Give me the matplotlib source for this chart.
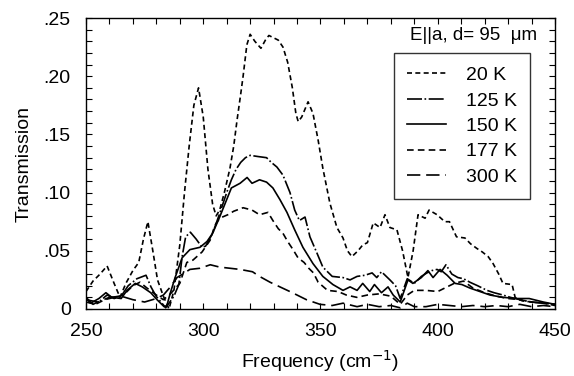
import matplotlib
matplotlib.use('Agg')
import matplotlib.pyplot as plt
from matplotlib.ticker import MultipleLocator, FixedLocator

plt.rcParams['font.family'] = ['Liberation Sans', 'DejaVu Sans']

# transmission spectra, E || a, d = 95 um
x_20 = [250, 253, 256, 259, 262, 264.5, 267, 270, 272.5, 274.5, 276.4, 278.5, 280.5, 283, 285.4,
        287.5, 290, 292, 294, 296, 298, 300, 302, 304, 305.5, 307, 309, 311.4, 313, 314.4, 316,
        317, 318.6, 320, 322, 324.6, 326.5, 328, 330, 332, 334, 336, 338, 339.5, 340.5, 342,
        344.7, 346.8, 349, 351, 354, 357, 359.6, 361.5, 363.4, 366, 368, 370, 372.5, 375.4,
        377.5, 379.6, 382.6, 385, 387.3, 389.5, 391.6, 394.6, 396.3, 399.7, 403, 405, 408,
        411.6, 414, 416.7, 419, 421.5, 423.6, 426, 427.8, 431.7, 433, 436, 440, 445, 450]
y_20 = [0.015, 0.024, 0.03, 0.037, 0.022, 0.01, 0.022, 0.033, 0.04, 0.06, 0.075, 0.05, 0.025, 0.011, 0.0,
        0.016, 0.055, 0.1, 0.14, 0.175, 0.19, 0.165, 0.12, 0.09, 0.08, 0.085, 0.1, 0.121, 0.14, 0.162, 0.185,
        0.2, 0.227, 0.236, 0.23, 0.224, 0.231, 0.235, 0.233, 0.231, 0.225, 0.212, 0.19, 0.168, 0.161, 0.165,
        0.178, 0.168, 0.145, 0.121, 0.091, 0.07, 0.061, 0.05, 0.045, 0.05, 0.055, 0.057, 0.074, 0.07,
        0.081, 0.07, 0.068, 0.05, 0.027, 0.05, 0.081, 0.078, 0.085, 0.081, 0.075, 0.075, 0.062,
        0.061, 0.056, 0.052, 0.049, 0.045, 0.039, 0.03, 0.022, 0.021, 0.01, 0.007, 0.006, 0.005, 0.004]

x_125 = [250, 253, 256, 259, 262, 265, 268, 271.7, 275.6, 277.7, 279.9, 282.4, 284, 287.5, 289.6, 291,
         292.5, 294.5, 297, 299.5, 301, 304, 307, 310, 312, 314, 316, 318, 320, 323.3, 327, 329, 331.4,
         334, 337, 339, 341, 343.4, 345.5, 348.5, 351, 355, 359.6, 362.6, 365.6, 369, 372, 374, 376,
         379.6, 382, 384, 387, 390, 393, 395.4, 397.5, 399.7, 401.5, 403.5, 406, 408.6, 411, 413.7, 417,
         421, 424, 427.8, 431, 435, 440, 445, 450]
y_125 = [0.01, 0.004, 0.007, 0.012, 0.009, 0.011, 0.02, 0.026, 0.029, 0.019, 0.011, 0.005, 0.001, 0.011, 0.021, 0.045,
         0.062, 0.066, 0.06, 0.053, 0.054, 0.065, 0.082, 0.1, 0.111, 0.12, 0.126, 0.13, 0.132, 0.131, 0.13, 0.126, 0.122,
         0.115, 0.1, 0.085, 0.076, 0.079, 0.062, 0.048, 0.036, 0.028, 0.027, 0.025, 0.028, 0.029, 0.031, 0.027, 0.032,
         0.025, 0.02, 0.009, 0.026, 0.022, 0.028, 0.031, 0.033, 0.034, 0.032, 0.038, 0.03, 0.027, 0.026, 0.023, 0.02,
         0.016, 0.014, 0.012, 0.01, 0.008, 0.006, 0.005, 0.004]

x_150 = [250, 252, 255.5, 258.5, 261, 265, 267.5, 271, 274, 277.6, 280.3, 283.3, 284.5, 286, 288, 291,
         294.3, 298.6, 301.6, 304, 307, 310, 312, 315.7, 318.7, 320.8, 324, 327, 329.7, 332.7, 335.7,
         339, 342.5, 346.8, 351, 355.3, 359.6, 362.6, 365.6, 368, 371, 373, 376, 378.8, 381, 384,
         387.3, 389.4, 393, 395.8, 398, 401, 404, 407.4, 410.3, 413.7, 418, 422.3, 427.8, 433.8, 439, 445, 450]
y_150 = [0.009, 0.005, 0.009, 0.014, 0.01, 0.009, 0.016, 0.022, 0.019, 0.014, 0.008, 0.002, 0.003, 0.014, 0.027, 0.044,
         0.051, 0.053, 0.058, 0.065, 0.079, 0.094, 0.104, 0.108, 0.113, 0.108, 0.111, 0.109, 0.104, 0.094, 0.083,
         0.068, 0.053, 0.039, 0.028, 0.021, 0.016, 0.019, 0.016, 0.022, 0.015, 0.021, 0.014, 0.019, 0.012, 0.006,
         0.025, 0.022, 0.027, 0.033, 0.027, 0.034, 0.029, 0.022, 0.021, 0.018, 0.015, 0.012, 0.01, 0.009, 0.009, 0.006, 0.004]

x_177 = [250, 254, 258, 262, 266, 270, 273, 276, 280, 283, 286, 290, 293, 295.6, 299.5, 302.9, 305, 307,
         310.5, 313, 317, 320.8, 324, 327.6, 329.7, 332, 334, 336, 338.3, 340.4, 343, 345, 347, 349, 353,
         357.5, 361, 365.5, 370, 375, 380, 384, 387, 390, 395, 400, 404, 407, 411, 415, 420, 425, 430,
         435, 440, 445, 450]
y_177 = [0.006, 0.004, 0.008, 0.01, 0.012, 0.02, 0.023, 0.018, 0.012, 0.008, 0.013, 0.022, 0.04, 0.042, 0.049, 0.059, 0.072, 0.078,
         0.081, 0.084, 0.087, 0.085, 0.081, 0.083, 0.076, 0.069, 0.065, 0.058, 0.051, 0.044, 0.04, 0.035, 0.031, 0.023, 0.016,
         0.015, 0.012, 0.01, 0.012, 0.013, 0.011, 0.004, 0.012, 0.016, 0.016, 0.015, 0.019, 0.022, 0.024, 0.018, 0.014, 0.011, 0.009,
         0.008, 0.006, 0.005, 0.003]

x_300 = [250, 255, 260, 265, 270, 275, 280, 283, 286, 288.8, 292, 294.3, 298.6, 303, 307, 311.4, 315.7, 321,
         324, 328.5, 332.7, 338, 344, 349.8, 355, 359.6, 365.6, 370, 375, 380, 384, 387, 390, 395, 400,
         405, 410, 415, 420, 425, 430, 435, 440, 445, 450]
y_300 = [0.008, 0.006, 0.01, 0.011, 0.008, 0.006, 0.009, 0.012, 0.019, 0.027, 0.031, 0.034, 0.035, 0.038, 0.036, 0.035, 0.034, 0.032,
         0.028, 0.023, 0.019, 0.014, 0.008, 0.004, 0.003, 0.005, 0.002, 0.004, 0.002, 0.003, 0.001, 0.005, 0.002, 0.002, 0.004,
         0.003, 0.002, 0.003, 0.002, 0.003, 0.002, 0.004, 0.002, 0.003, 0.002]

labels = ['20 K', '125 K', '150 K', '177 K', '300 K']
y_ticks = [0, 0.05, 0.10, 0.15, 0.20, 0.25]
y_ticklabels = ['0', '.05', '.10', '.15', '.20', '.25']

fig = plt.figure(figsize=(5.74, 3.76), dpi=100)
ax = fig.add_axes([0.1498, 0.1782, 0.8171, 0.7739])

lw = 1.2
ax.plot(x_20, y_20, color='black', lw=lw, linestyle=(0, (3, 2)), label=labels[0])
ax.plot(x_125, y_125, color='black', lw=lw, linestyle=(0, (9, 1.5, 1, 1.5)), label=labels[1])
ax.plot(x_150, y_150, color='black', lw=lw, linestyle='-', label=labels[2])
ax.plot(x_177, y_177, color='black', lw=lw, linestyle=(0, (4, 2.5)), label=labels[3])
ax.plot(x_300, y_300, color='black', lw=lw, linestyle=(0, (8, 3.5)), label=labels[4])

ax.set_xlim(250, 450)
ax.set_ylim(0, 0.25)
ax.xaxis.set_major_locator(MultipleLocator(50))
ax.xaxis.set_minor_locator(MultipleLocator(10))
ax.yaxis.set_major_locator(FixedLocator(y_ticks))
ax.set_yticklabels(y_ticklabels)
ax.yaxis.set_minor_locator(MultipleLocator(0.01))
ax.tick_params(which='both', direction='in', top=True, right=True, length=4, width=0.8, labelsize=14)
ax.tick_params(axis='x', pad=10)
ax.tick_params(axis='y', pad=11)
for s in ax.spines.values():
    s.set_linewidth(1.0)

ax.set_xlabel('Frequency (cm$^{-1}$)', fontsize=14, labelpad=6)
ax.set_ylabel('Transmission', fontsize=14, labelpad=8)

ax.text(0.962, 0.94, 'E||a, d= 95  \u03bcm', transform=ax.transAxes, ha='right', va='center', fontsize=13.5)

leg = ax.legend(loc='upper right', bbox_to_anchor=(0.947, 0.88), borderaxespad=0, fontsize=14, frameon=True,
                fancybox=False, edgecolor='black', handlelength=2.0, handletextpad=1.0, labelspacing=0.4,
                borderpad=0.7)
leg.get_frame().set_linewidth(1.0)

fig.savefig('out.png', dpi=100)
